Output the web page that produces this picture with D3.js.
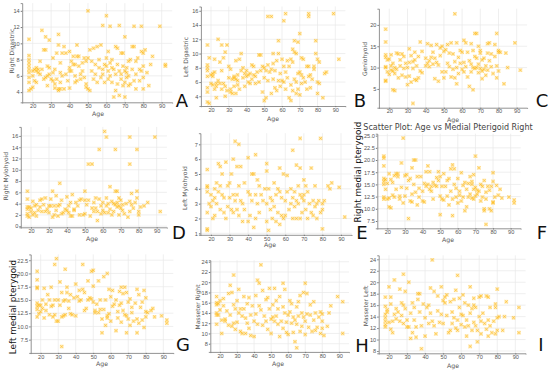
<!DOCTYPE html>
<html>
<head>
<meta charset="utf-8">
<script src="https://cdn.jsdelivr.net/npm/d3@7"></script>
<style>
  body { margin: 0; background: #fff; }
  svg { display: block; font-family: "DejaVu Sans", sans-serif; }
</style>
</head>
<body>
<svg width="550" height="370"></svg>
<script>
// Age ticks shared by every panel.
var ageTicks = [20, 30, 40, 50, 60, 70, 80, 90];

// [age, value] pairs.
var rightDigastric = [[18,10.5],[18,8.5],[18,8.0],[18,7.6],[18,7.2],[18,6.8],[18,6.4],[18,5.8],[18,5.2],[18,4.2],[19,4.4],[20,4.6],[20,6.0],[20,6.6],[21,5.4],[21,6.8],[22,6.6],[22,5.2],[22,7.0],[23,6.4],[23,6.8],[24,7.8],[24,6.2],[25,11.6],[25,6.8],[26,9.2],[26,5.6],[27,9.2],[27,5.8],[27,10.8],[28,6.0],[28,7.2],[28,4.8],[29,10.4],[29,6.2],[29,7.0],[30,5.6],[31,8.2],[31,6.4],[31,5.4],[32,4.5],[32,5.0],[32,6.8],[33,5.6],[33,8.8],[34,11.1],[34,9.8],[34,4.4],[34,4.2],[35,6.4],[35,5.2],[35,7.6],[35,4.4],[36,6.0],[36,8.8],[37,9.6],[37,4.4],[38,8.8],[38,6.2],[39,5.4],[40,9.0],[40,7.0],[40,6.6],[40,4.5],[41,7.8],[41,6.6],[42,7.4],[42,8.4],[43,7.4],[43,5.2],[43,6.0],[44,9.8],[44,8.4],[44,5.4],[45,7.2],[45,8.4],[46,6.2],[46,5.6],[47,6.6],[47,7.6],[48,5.8],[48,8.2],[49,5.0],[49,4.6],[49,7.8],[50,14.0],[50,8.2],[50,4.4],[51,9.2],[51,4.2],[52,6.6],[52,7.8],[53,5.6],[53,9.4],[54,7.4],[54,6.2],[55,9.6],[55,5.2],[56,7.0],[56,8.0],[57,5.8],[57,9.8],[58,12.2],[58,6.8],[58,6.2],[59,7.4],[59,5.2],[60,13.4],[60,8.2],[60,7.2],[61,9.0],[61,6.6],[61,5.6],[62,12.1],[62,7.6],[62,6.0],[63,8.0],[63,5.2],[63,7.0],[64,3.4],[64,6.8],[65,9.6],[65,4.2],[65,6.2],[66,9.4],[66,5.0],[66,7.4],[67,12.2],[67,6.6],[67,3.6],[68,8.8],[68,6.2],[68,5.6],[69,8.8],[69,7.2],[69,4.8],[70,10.8],[70,6.6],[70,5.2],[70,3.4],[71,7.0],[71,6.4],[71,5.8],[72,7.8],[72,6.0],[72,4.8],[73,8.0],[73,5.0],[74,6.8],[74,9.6],[75,12.1],[75,9.6],[75,5.4],[76,7.8],[76,6.2],[76,4.4],[77,8.2],[78,6.8],[78,5.4],[79,9.0],[79,12.1],[79,6.6],[80,8.8],[80,7.2],[80,4.4],[80,5.8],[81,9.2],[82,6.4],[83,4.8],[84,7.4],[85,8.4],[89,12.1],[92,7.4],[92,7.2]];

var leftDigastric = [[18,11.2],[18,8.4],[18,8.0],[18,7.6],[18,6.8],[18,5.2],[18,4.6],[18,3.2],[19,3.0],[19,9.4],[20,7.0],[20,5.8],[21,7.2],[21,5.6],[21,6.8],[22,9.2],[22,5.0],[22,7.4],[23,5.4],[23,3.8],[23,5.8],[24,12.0],[24,6.2],[25,8.8],[25,5.8],[26,11.2],[26,5.0],[26,7.6],[27,9.4],[27,5.8],[28,10.2],[28,5.4],[28,4.0],[29,11.2],[29,4.8],[30,6.6],[30,8.2],[31,4.6],[31,5.0],[31,7.8],[32,6.4],[32,4.4],[33,6.8],[33,6.6],[33,5.4],[34,9.0],[34,6.4],[34,4.4],[35,6.2],[35,5.6],[35,7.0],[36,9.2],[36,5.0],[37,7.6],[37,10.0],[38,6.6],[38,8.0],[39,7.2],[39,5.4],[40,7.6],[40,6.8],[41,7.0],[41,6.0],[42,7.2],[42,5.8],[43,8.4],[43,6.4],[44,8.2],[44,7.0],[45,5.8],[45,6.8],[46,7.4],[47,9.8],[47,6.0],[48,9.8],[48,7.6],[49,8.2],[49,4.6],[50,8.0],[50,6.6],[50,3.4],[51,3.8],[51,7.6],[52,15.2],[52,8.4],[52,6.2],[53,7.4],[54,15.2],[54,4.4],[54,7.8],[55,10.0],[55,6.4],[55,8.6],[56,5.2],[56,7.6],[57,4.8],[57,9.0],[58,11.8],[58,6.2],[58,10.0],[59,7.2],[59,5.4],[60,9.2],[60,6.2],[61,14.6],[61,6.0],[61,8.2],[62,15.6],[62,5.0],[62,7.4],[63,9.0],[63,6.6],[64,3.8],[64,8.2],[65,3.4],[65,9.2],[65,5.6],[66,10.6],[66,8.8],[66,4.8],[67,11.8],[67,10.2],[67,6.4],[68,10.0],[68,6.0],[68,4.4],[69,11.6],[69,7.2],[69,5.0],[70,12.8],[70,7.4],[70,4.2],[71,9.4],[71,7.0],[71,5.8],[72,9.2],[72,6.6],[73,6.0],[74,5.0],[74,8.2],[75,15.6],[75,15.2],[75,8.2],[75,6.8],[76,7.0],[76,5.2],[77,6.4],[78,7.8],[78,8.2],[79,11.8],[79,10.0],[80,9.2],[80,6.0],[80,4.4],[81,8.8],[81,5.8],[83,3.8],[84,7.2],[85,7.4],[89,15.6],[92,9.2]];

var geniohyoid = [[18,19.0],[18,16.0],[18,13.0],[18,12.4],[18,10.2],[18,10.0],[18,7.0],[18,6.8],[19,9.0],[19,11.8],[20,12.0],[20,8.4],[21,13.0],[21,10.4],[21,9.4],[22,4.8],[22,9.2],[22,11.0],[23,4.6],[23,10.0],[23,8.6],[24,13.4],[24,9.6],[25,13.2],[25,7.6],[26,11.8],[26,10.4],[27,13.2],[27,8.2],[28,12.6],[28,9.8],[29,11.0],[29,7.8],[30,6.0],[30,10.0],[31,14.4],[31,11.2],[31,8.0],[32,12.8],[32,6.6],[33,1.6],[33,9.8],[33,11.4],[34,13.6],[34,7.2],[34,11.8],[35,7.0],[35,10.4],[36,12.6],[36,7.6],[37,16.0],[37,9.2],[38,13.8],[38,8.8],[40,12.2],[40,10.4],[41,15.6],[41,11.0],[42,11.6],[42,10.2],[43,15.2],[43,12.4],[44,13.6],[44,10.8],[45,7.4],[45,12.2],[46,15.4],[46,11.2],[47,6.8],[47,10.6],[48,14.6],[48,12.8],[49,9.0],[49,15.0],[50,13.8],[50,7.6],[51,14.2],[51,9.0],[52,15.4],[52,11.0],[53,13.4],[53,10.2],[54,15.8],[54,7.8],[55,13.2],[55,9.6],[56,22.6],[56,11.4],[56,7.6],[57,15.8],[57,6.2],[57,10.0],[58,12.4],[58,8.6],[59,11.0],[59,14.0],[60,13.6],[60,9.6],[61,16.4],[61,9.0],[61,11.2],[62,15.8],[62,10.2],[63,13.6],[63,7.8],[64,5.6],[64,11.6],[65,15.6],[65,10.8],[65,9.0],[66,4.8],[66,14.0],[66,10.0],[67,18.0],[67,12.6],[67,9.8],[68,18.0],[68,12.2],[68,10.0],[69,15.0],[69,10.8],[69,8.8],[70,14.0],[70,13.4],[70,9.8],[71,9.2],[71,7.4],[71,11.8],[72,9.6],[72,12.2],[73,8.2],[73,10.4],[74,15.6],[74,13.4],[74,9.4],[75,15.8],[75,11.6],[76,13.2],[76,10.2],[77,8.6],[78,15.4],[78,12.6],[79,18.0],[79,10.4],[79,7.6],[80,14.0],[80,13.6],[80,9.2],[81,13.6],[83,6.2],[84,13.4],[85,10.0],[89,15.8],[92,9.4]];

var rightMylohyoid = [[18,6.2],[18,4.8],[18,3.4],[18,3.0],[18,2.2],[18,1.8],[19,3.4],[19,1.6],[20,2.6],[20,3.2],[21,4.4],[21,2.0],[22,3.6],[22,2.4],[23,1.8],[23,3.8],[24,2.8],[25,4.6],[25,3.4],[26,4.8],[26,2.6],[27,3.8],[28,5.0],[28,2.6],[29,3.0],[30,3.6],[30,2.4],[31,4.8],[31,3.6],[32,6.2],[32,1.6],[33,3.6],[33,2.0],[34,5.4],[34,2.8],[35,3.6],[35,1.8],[36,7.6],[36,3.8],[37,2.2],[37,4.6],[38,2.4],[39,3.0],[40,5.2],[40,2.8],[41,3.6],[41,2.4],[42,1.8],[42,4.2],[43,5.6],[43,1.8],[44,3.0],[44,2.8],[45,4.2],[46,3.6],[47,4.6],[47,2.0],[48,4.8],[49,2.0],[50,6.2],[50,4.6],[50,2.2],[51,3.8],[52,11.0],[52,4.6],[53,1.8],[54,11.0],[54,3.2],[55,2.6],[55,4.2],[56,5.0],[56,3.2],[57,1.0],[57,2.6],[58,13.6],[58,4.8],[59,3.6],[59,2.2],[60,2.8],[60,4.2],[61,16.8],[61,2.4],[62,15.8],[62,5.0],[62,3.6],[63,4.0],[63,2.4],[64,7.0],[64,3.0],[65,4.4],[65,2.0],[66,4.0],[66,2.6],[67,13.6],[67,6.2],[67,3.8],[68,6.2],[68,4.2],[68,3.4],[69,5.0],[69,3.6],[69,2.0],[70,4.6],[70,3.2],[71,3.8],[71,2.8],[72,2.2],[73,4.0],[74,1.6],[75,15.8],[75,11.0],[75,4.4],[75,2.6],[76,5.8],[76,3.8],[77,3.2],[78,4.2],[79,13.6],[79,6.2],[79,5.0],[80,2.6],[80,2.0],[81,3.4],[83,3.6],[85,4.2],[89,15.8],[92,2.6]];

var leftMylohyoid = [[18,5.3],[18,4.2],[18,4.1],[18,3.8],[18,2.4],[18,1.3],[18,1.2],[19,3.0],[20,3.6],[20,2.8],[21,3.2],[21,2.0],[22,3.4],[22,2.2],[22,4.0],[23,4.4],[23,3.0],[24,5.7],[24,3.8],[25,5.5],[25,4.2],[25,2.6],[26,5.0],[26,3.6],[27,3.4],[27,2.4],[28,5.8],[28,2.0],[29,4.2],[29,2.8],[30,3.4],[30,4.4],[31,5.0],[31,2.6],[32,6.0],[32,3.6],[32,2.4],[33,7.2],[33,3.2],[34,5.5],[34,3.6],[34,2.6],[35,7.0],[35,4.2],[35,2.2],[36,5.5],[36,3.2],[37,1.8],[37,3.0],[38,4.4],[38,2.6],[40,6.1],[40,3.8],[40,1.8],[41,3.6],[41,2.2],[42,5.0],[42,3.2],[43,5.0],[43,1.4],[44,6.3],[44,3.6],[44,2.0],[45,4.6],[45,3.0],[46,4.2],[46,2.4],[47,3.6],[48,3.2],[49,4.0],[50,5.7],[50,5.2],[50,3.0],[50,1.8],[51,4.0],[51,1.2],[52,3.4],[52,2.6],[53,3.2],[53,2.0],[54,4.4],[54,2.8],[55,3.6],[55,1.8],[56,4.0],[56,2.4],[57,5.4],[57,3.8],[57,1.6],[58,2.2],[58,3.4],[59,5.0],[59,2.0],[60,3.2],[60,2.2],[61,4.9],[61,3.8],[62,2.6],[63,4.0],[63,3.0],[64,6.6],[64,3.4],[64,2.0],[65,3.8],[65,2.8],[66,5.6],[66,3.2],[66,2.0],[67,4.2],[67,3.0],[68,7.4],[68,5.4],[68,3.6],[68,2.0],[69,3.4],[69,2.4],[70,4.6],[70,3.6],[70,3.2],[71,4.2],[71,2.6],[72,2.0],[72,3.8],[73,3.0],[74,5.4],[74,2.4],[75,3.2],[75,2.2],[76,4.2],[76,2.8],[77,3.0],[77,2.0],[78,3.2],[79,7.4],[79,2.4],[80,3.0],[80,2.6],[80,1.3],[81,3.2],[83,4.2],[84,4.0],[85,4.4],[89,4.1],[92,2.1]];

var rightMedialPterygoid = [[18,20.8],[18,20.4],[18,18.8],[18,16.2],[18,15.6],[18,15.0],[18,12.4],[18,12.0],[19,16.0],[19,14.0],[20,15.2],[20,12.0],[21,17.2],[21,12.2],[21,10.4],[22,16.0],[22,10.2],[23,15.4],[23,12.8],[24,16.8],[24,12.4],[25,17.2],[25,14.0],[26,16.6],[26,17.2],[27,12.6],[27,12.0],[28,19.4],[28,14.4],[29,24.5],[29,11.2],[30,16.8],[30,12.6],[31,17.0],[31,14.2],[32,8.0],[32,15.8],[33,11.6],[33,16.2],[34,18.4],[34,13.0],[34,11.4],[35,20.0],[35,15.0],[36,20.0],[36,13.4],[37,16.6],[37,10.8],[38,14.2],[38,12.4],[39,16.6],[40,11.6],[40,13.6],[41,15.2],[41,11.4],[42,17.6],[42,14.6],[43,18.8],[43,15.0],[44,17.6],[44,14.0],[45,14.6],[45,13.6],[46,12.0],[46,15.4],[47,14.8],[48,16.4],[48,14.6],[49,17.6],[49,15.8],[50,8.8],[50,12.6],[50,16.6],[51,12.0],[51,14.6],[52,11.8],[52,17.2],[53,14.6],[54,15.8],[54,12.6],[55,16.2],[55,10.8],[56,18.2],[56,13.6],[57,8.6],[57,19.0],[57,12.0],[58,18.2],[58,15.0],[59,12.4],[59,14.2],[60,16.2],[60,11.2],[61,13.6],[61,12.8],[62,17.4],[62,11.6],[63,14.8],[63,12.4],[64,9.6],[64,15.4],[65,10.4],[65,14.0],[66,15.2],[66,12.4],[67,16.6],[67,13.0],[68,15.6],[68,12.2],[68,15.0],[69,17.0],[69,14.0],[69,12.0],[70,20.8],[70,14.4],[70,12.6],[71,13.8],[71,13.0],[72,18.4],[72,13.6],[73,15.0],[73,11.6],[74,12.4],[74,14.6],[75,15.8],[75,10.0],[75,9.6],[76,6.8],[76,13.4],[76,12.0],[77,14.6],[78,10.0],[78,13.8],[79,9.6],[79,14.6],[80,17.4],[80,15.6],[80,11.4],[80,11.2],[81,12.4],[82,14.8],[83,12.8],[84,14.0],[85,12.2],[89,12.4],[92,11.8],[92,11.2]];

var leftMedialPterygoid = [[18,20.4],[18,18.8],[18,17.4],[18,17.2],[18,14.4],[18,13.8],[18,13.2],[18,11.8],[19,14.0],[19,12.4],[20,14.0],[20,12.8],[21,15.0],[21,13.4],[22,17.2],[22,11.6],[23,14.2],[23,13.0],[24,16.0],[25,15.0],[25,12.2],[26,17.4],[26,13.8],[27,11.8],[27,14.0],[28,21.7],[28,15.0],[28,12.2],[29,22.8],[29,11.0],[30,11.0],[30,15.0],[31,18.4],[31,14.0],[32,6.2],[32,11.8],[32,16.4],[33,12.0],[33,14.8],[34,20.8],[34,12.2],[34,15.0],[35,16.4],[35,17.4],[36,14.8],[36,13.4],[37,16.0],[37,12.4],[38,12.2],[39,15.4],[40,12.0],[40,18.0],[41,15.6],[42,16.8],[42,14.8],[43,15.0],[44,21.7],[44,17.0],[45,16.4],[45,13.0],[46,13.4],[47,18.6],[47,15.0],[48,15.4],[49,20.4],[49,15.2],[50,20.6],[50,17.6],[50,14.6],[51,13.0],[51,12.6],[52,14.2],[53,18.6],[53,12.6],[54,15.0],[54,13.2],[55,8.8],[55,11.4],[56,19.4],[56,13.2],[57,10.2],[57,15.0],[58,20.0],[58,12.0],[58,11.6],[59,17.0],[59,12.4],[60,15.6],[60,11.0],[61,16.8],[61,13.8],[62,14.2],[63,9.2],[63,15.0],[64,11.6],[64,12.8],[65,16.6],[65,14.0],[66,17.4],[66,10.8],[66,14.4],[67,16.2],[67,13.0],[68,17.4],[68,12.2],[69,8.8],[69,16.4],[69,12.0],[70,14.6],[70,11.4],[71,15.2],[71,10.2],[72,13.6],[72,12.6],[73,11.0],[74,14.4],[75,17.0],[75,8.8],[75,11.4],[76,16.0],[76,10.6],[77,13.6],[78,11.2],[78,14.6],[79,16.8],[79,9.8],[80,15.4],[80,12.8],[80,11.8],[81,12.6],[83,13.0],[84,13.4],[85,11.8],[89,12.0],[92,11.2],[92,10.6]];

var masseterRight = [[18,17.2],[18,16.0],[18,15.6],[18,14.0],[18,13.6],[18,11.8],[19,15.8],[19,13.6],[20,16.4],[20,14.6],[21,10.0],[21,12.6],[22,16.8],[22,15.4],[23,12.4],[23,12.8],[24,14.4],[25,17.8],[25,11.6],[26,19.4],[26,13.6],[27,18.0],[27,11.4],[28,21.4],[28,15.6],[28,12.0],[29,14.8],[29,10.8],[30,16.4],[30,12.2],[31,18.6],[31,14.0],[32,10.4],[32,14.8],[33,13.4],[33,10.0],[34,17.2],[34,14.8],[35,13.0],[35,10.0],[36,15.8],[36,12.0],[37,17.0],[37,11.0],[38,13.6],[38,9.6],[39,15.4],[40,9.4],[40,12.4],[41,17.4],[41,13.8],[42,20.4],[42,11.8],[43,19.8],[43,15.4],[44,23.4],[44,14.6],[45,18.4],[45,11.6],[46,13.4],[47,16.6],[47,12.4],[48,17.0],[48,10.8],[49,18.8],[49,14.8],[50,12.8],[50,10.0],[51,15.6],[51,13.2],[52,18.8],[52,12.4],[53,16.4],[53,13.4],[54,14.8],[54,11.8],[55,17.2],[55,9.4],[56,12.4],[57,19.8],[57,15.2],[57,11.0],[58,18.6],[58,14.0],[59,12.2],[59,10.2],[60,13.6],[60,9.8],[61,16.4],[61,14.2],[62,15.8],[62,12.0],[63,10.2],[63,13.2],[64,8.4],[64,12.6],[65,7.2],[65,15.2],[65,11.8],[66,16.2],[66,13.4],[67,17.4],[67,10.4],[68,14.0],[68,11.4],[69,18.0],[69,13.2],[70,19.8],[70,12.4],[70,9.8],[71,17.8],[71,13.8],[72,11.2],[73,15.6],[73,13.6],[74,10.4],[75,16.2],[75,12.6],[76,14.0],[76,10.6],[77,11.2],[78,13.2],[79,14.2],[79,10.0],[80,13.8],[80,12.4],[80,11.0],[81,9.6],[83,11.4],[84,14.0],[85,15.4],[89,17.2],[92,16.2],[92,10.0]];

var masseterLeft = [[18,17.4],[18,15.8],[18,14.4],[18,13.8],[18,13.2],[18,12.6],[18,12.2],[19,14.8],[19,15.2],[20,19.2],[20,13.0],[21,17.4],[21,11.8],[21,16.2],[22,13.2],[22,11.2],[23,20.4],[23,14.4],[24,15.4],[24,13.6],[25,14.8],[26,18.8],[26,13.2],[27,16.4],[27,14.2],[28,21.4],[28,16.0],[28,12.8],[29,18.4],[29,15.4],[30,13.4],[30,12.2],[31,20.0],[31,12.2],[32,14.6],[32,10.2],[33,16.4],[33,11.2],[34,15.6],[34,13.4],[35,10.4],[35,12.2],[36,18.0],[36,17.0],[37,18.0],[37,14.8],[38,8.4],[38,12.4],[39,16.2],[40,10.6],[40,13.8],[41,15.6],[42,12.8],[42,16.0],[43,19.0],[43,14.6],[44,23.9],[44,13.2],[45,18.4],[45,12.4],[46,11.0],[47,17.6],[47,15.0],[48,13.0],[49,19.2],[49,14.4],[50,16.8],[50,12.8],[51,17.4],[51,16.4],[52,17.8],[52,14.2],[53,11.2],[54,16.6],[54,11.6],[55,14.8],[55,12.8],[56,17.0],[56,13.8],[57,18.6],[57,12.0],[58,21.2],[58,11.6],[58,13.4],[59,17.2],[59,15.6],[60,14.4],[60,12.6],[61,17.8],[61,14.2],[62,16.4],[62,12.2],[63,10.6],[63,13.4],[64,16.0],[64,12.4],[65,8.8],[65,19.2],[65,14.6],[66,15.4],[66,11.6],[67,17.2],[67,16.0],[67,13.0],[68,15.6],[68,12.4],[69,9.6],[69,11.6],[70,14.0],[70,17.4],[71,17.6],[71,13.2],[71,11.0],[72,14.6],[73,12.8],[74,17.6],[74,11.8],[75,17.4],[75,10.6],[75,13.4],[76,15.6],[76,12.4],[77,11.2],[78,13.2],[79,16.2],[79,15.6],[79,11.0],[80,18.8],[80,13.8],[80,11.6],[81,14.0],[83,11.6],[84,14.0],[85,16.6],[89,13.8],[92,15.6],[92,11.2]];

// Y tick values for each panel.
var ticksA = [4, 6, 8, 10, 12, 14];
var ticksB = [4, 6, 8, 10, 12, 14, 16];
var ticksC = [5, 10, 15, 20];
var ticksD = [0, 2, 4, 6, 8, 10, 12, 14, 16];
var ticksE = [1, 2, 3, 4, 5, 6, 7];
var ticksF = [7.5, 10, 12.5, 15, 17.5, 20, 22.5, 25];
var ticksG = [7.5, 10, 12.5, 15, 17.5, 20, 22.5];
var ticksH = [8, 10, 12, 14, 16, 18, 20, 22, 24];
var ticksI = [8, 10, 12, 14, 16, 18, 20, 22, 24];

var yLabels = ["Right Digastric", "Left Digastric", "Geniohyoid", "Right Mylohyoid", "Left Mylohyoid",
    "Right medial pterygoid", "Left medial pterygoid", "Masseter Right", "Masseter Left"];
var letters = ["A", "B", "C", "D", "E", "F", "G", "H", "I"];

// Layout of the nine sub-images (pixels), one entry per panel.
// x0/x1 map ages 14.3..95.7, yb/yt map the y domain.
var panels = [
    {data: rightDigastric, ticks: ticksA, ydom: [2.75, 14.95], x0: 22.2, x1: 172.2, yb: 102.3, yt: 3.1,
     lab: [11, 51], age: [98, 113.5], letter: [182, 100]},
    {data: leftDigastric, ticks: ticksB, ydom: [2.64, 16.6], x0: 200.9, x1: 345.4, yb: 106, yt: 6.5,
     lab: [185, 57], age: [273, 118.5], letter: [360, 100]},
    {data: geniohyoid, ticks: ticksC, ydom: [0.6, 23.8], x0: 378.9, x1: 527.1, yb: 107.7, yt: 8.7,
     lab: [364, 59], age: [453, 119.5], letter: [542, 100]},
    {data: rightMylohyoid, ticks: ticksD, ydom: [-0.2, 17.6], x0: 20.8, x1: 166.9, yb: 227.3, yt: 126.9,
     lab: [5, 176], age: [92, 238.5], letter: [179, 232]},
    {data: leftMylohyoid, ticks: ticksE, ydom: [0.9, 7.75], x0: 200.4, x1: 351.6, yb: 234.8, yt: 133.2,
     lab: [184, 188], age: [270, 244.5], letter: [362, 232]},
    {data: rightMedialPterygoid, ticks: ticksF, ydom: [6.0, 25.4], x0: 377.3, x1: 520.7, yb: 228.3, yt: 133.7,
     lab: [358, 172], age: [448, 239.5], letter: [542, 232], big: true, fmt: ".1f"},
    {data: leftMedialPterygoid, ticks: ticksG, ydom: [5.0, 23.6], x0: 30.7, x1: 173.3, yb: 352.9, yt: 254.4,
     lab: [13, 307], age: [102, 363.5], letter: [183, 344], big: true, fmt: ".1f"},
    {data: masseterRight, ticks: ticksH, ydom: [6.4, 24.3], x0: 210.3, x1: 349, yb: 351.9, yt: 260.2,
     lab: [197, 307], age: [278, 363], letter: [362, 345]},
    {data: masseterLeft, ticks: ticksI, ydom: [7.6, 24.7], x0: 378.7, x1: 525.6, yb: 353.3, yt: 255.3,
     lab: [365, 306], age: [453, 365.5], letter: [541, 344]}
];

var svg = d3.select("svg");

panels.forEach(function(p, i) {
    var x = d3.scaleLinear().domain([14.3, 95.7]).range([p.x0, p.x1]);
    var y = d3.scaleLinear().domain(p.ydom).range([p.yb, p.yt]);
    var g = svg.append("g");

    // grid
    g.selectAll(".gx").data(ageTicks).enter().append("line")
        .attr("x1", d => x(d)).attr("x2", d => x(d))
        .attr("y1", p.yb).attr("y2", p.yt)
        .attr("stroke", "#e8e8e8").attr("stroke-width", 0.7);
    g.selectAll(".gy").data(p.ticks).enter().append("line")
        .attr("x1", p.x0).attr("x2", p.x1)
        .attr("y1", d => y(d)).attr("y2", d => y(d))
        .attr("stroke", "#e8e8e8").attr("stroke-width", 0.7);

    // points
    var pts = g.selectAll(".pt").data(p.data).enter().append("g")
        .attr("transform", d => "translate(" + x(d[0]) + "," + y(d[1]) + ")");
    pts.append("rect")
        .attr("x", -1.9).attr("y", -1.9).attr("width", 3.8).attr("height", 3.8)
        .attr("fill", "#ffc93f").attr("fill-opacity", 0.38);
    pts.append("path")
        .attr("d", d3.symbol(d3.symbolX, 7))
        .attr("fill", "none").attr("stroke", "#ffb000")
        .attr("stroke-opacity", 0.55).attr("stroke-width", 0.8);

    // axes
    var fmt = p.fmt ? d3.format(p.fmt) : d3.format("d");
    var xa = g.append("g").attr("transform", "translate(0," + p.yb + ")")
        .call(d3.axisBottom(x).tickValues(ageTicks).tickSize(1.2).tickPadding(0.6));
    var ya = g.append("g").attr("transform", "translate(" + p.x0 + ",0)")
        .call(d3.axisLeft(y).tickValues(p.ticks).tickFormat(fmt).tickSize(1.5).tickPadding(1));
    [xa, ya].forEach(function(a) {
        a.select(".domain").attr("stroke", "#777").attr("stroke-width", 0.8);
        a.selectAll(".tick line").attr("stroke", "#777");
        a.selectAll("text").attr("fill", "#555").style("font-size", "5.6px");
    });

    // labels
    svg.append("text")
        .attr("x", p.age[0]).attr("y", p.age[1])
        .attr("text-anchor", "middle").attr("dominant-baseline", "central")
        .attr("fill", "#555")
        .style("font-size", "6.2px").text("Age");
    svg.append("text")
        .attr("transform", "translate(" + p.lab[0] + "," + p.lab[1] + ") rotate(-90)")
        .attr("text-anchor", "middle").attr("dominant-baseline", "central")
        .attr("fill", p.big ? "#111" : "#555")
        .style("font-size", p.big ? "8.8px" : "6px")
        .text(yLabels[i]);
    svg.append("text")
        .attr("x", p.letter[0]).attr("y", p.letter[1])
        .attr("text-anchor", "middle").attr("dominant-baseline", "central")
        .attr("fill", "#111").style("font-size", "18px")
        .text(letters[i]);
});

svg.append("text")
    .attr("x", 448).attr("y", 130)
    .attr("text-anchor", "middle").attr("fill", "#444")
    .style("font-size", "8px")
    .text("Scatter Plot: Age vs Medial Pterigoid Right");
</script>
</body>
</html>
